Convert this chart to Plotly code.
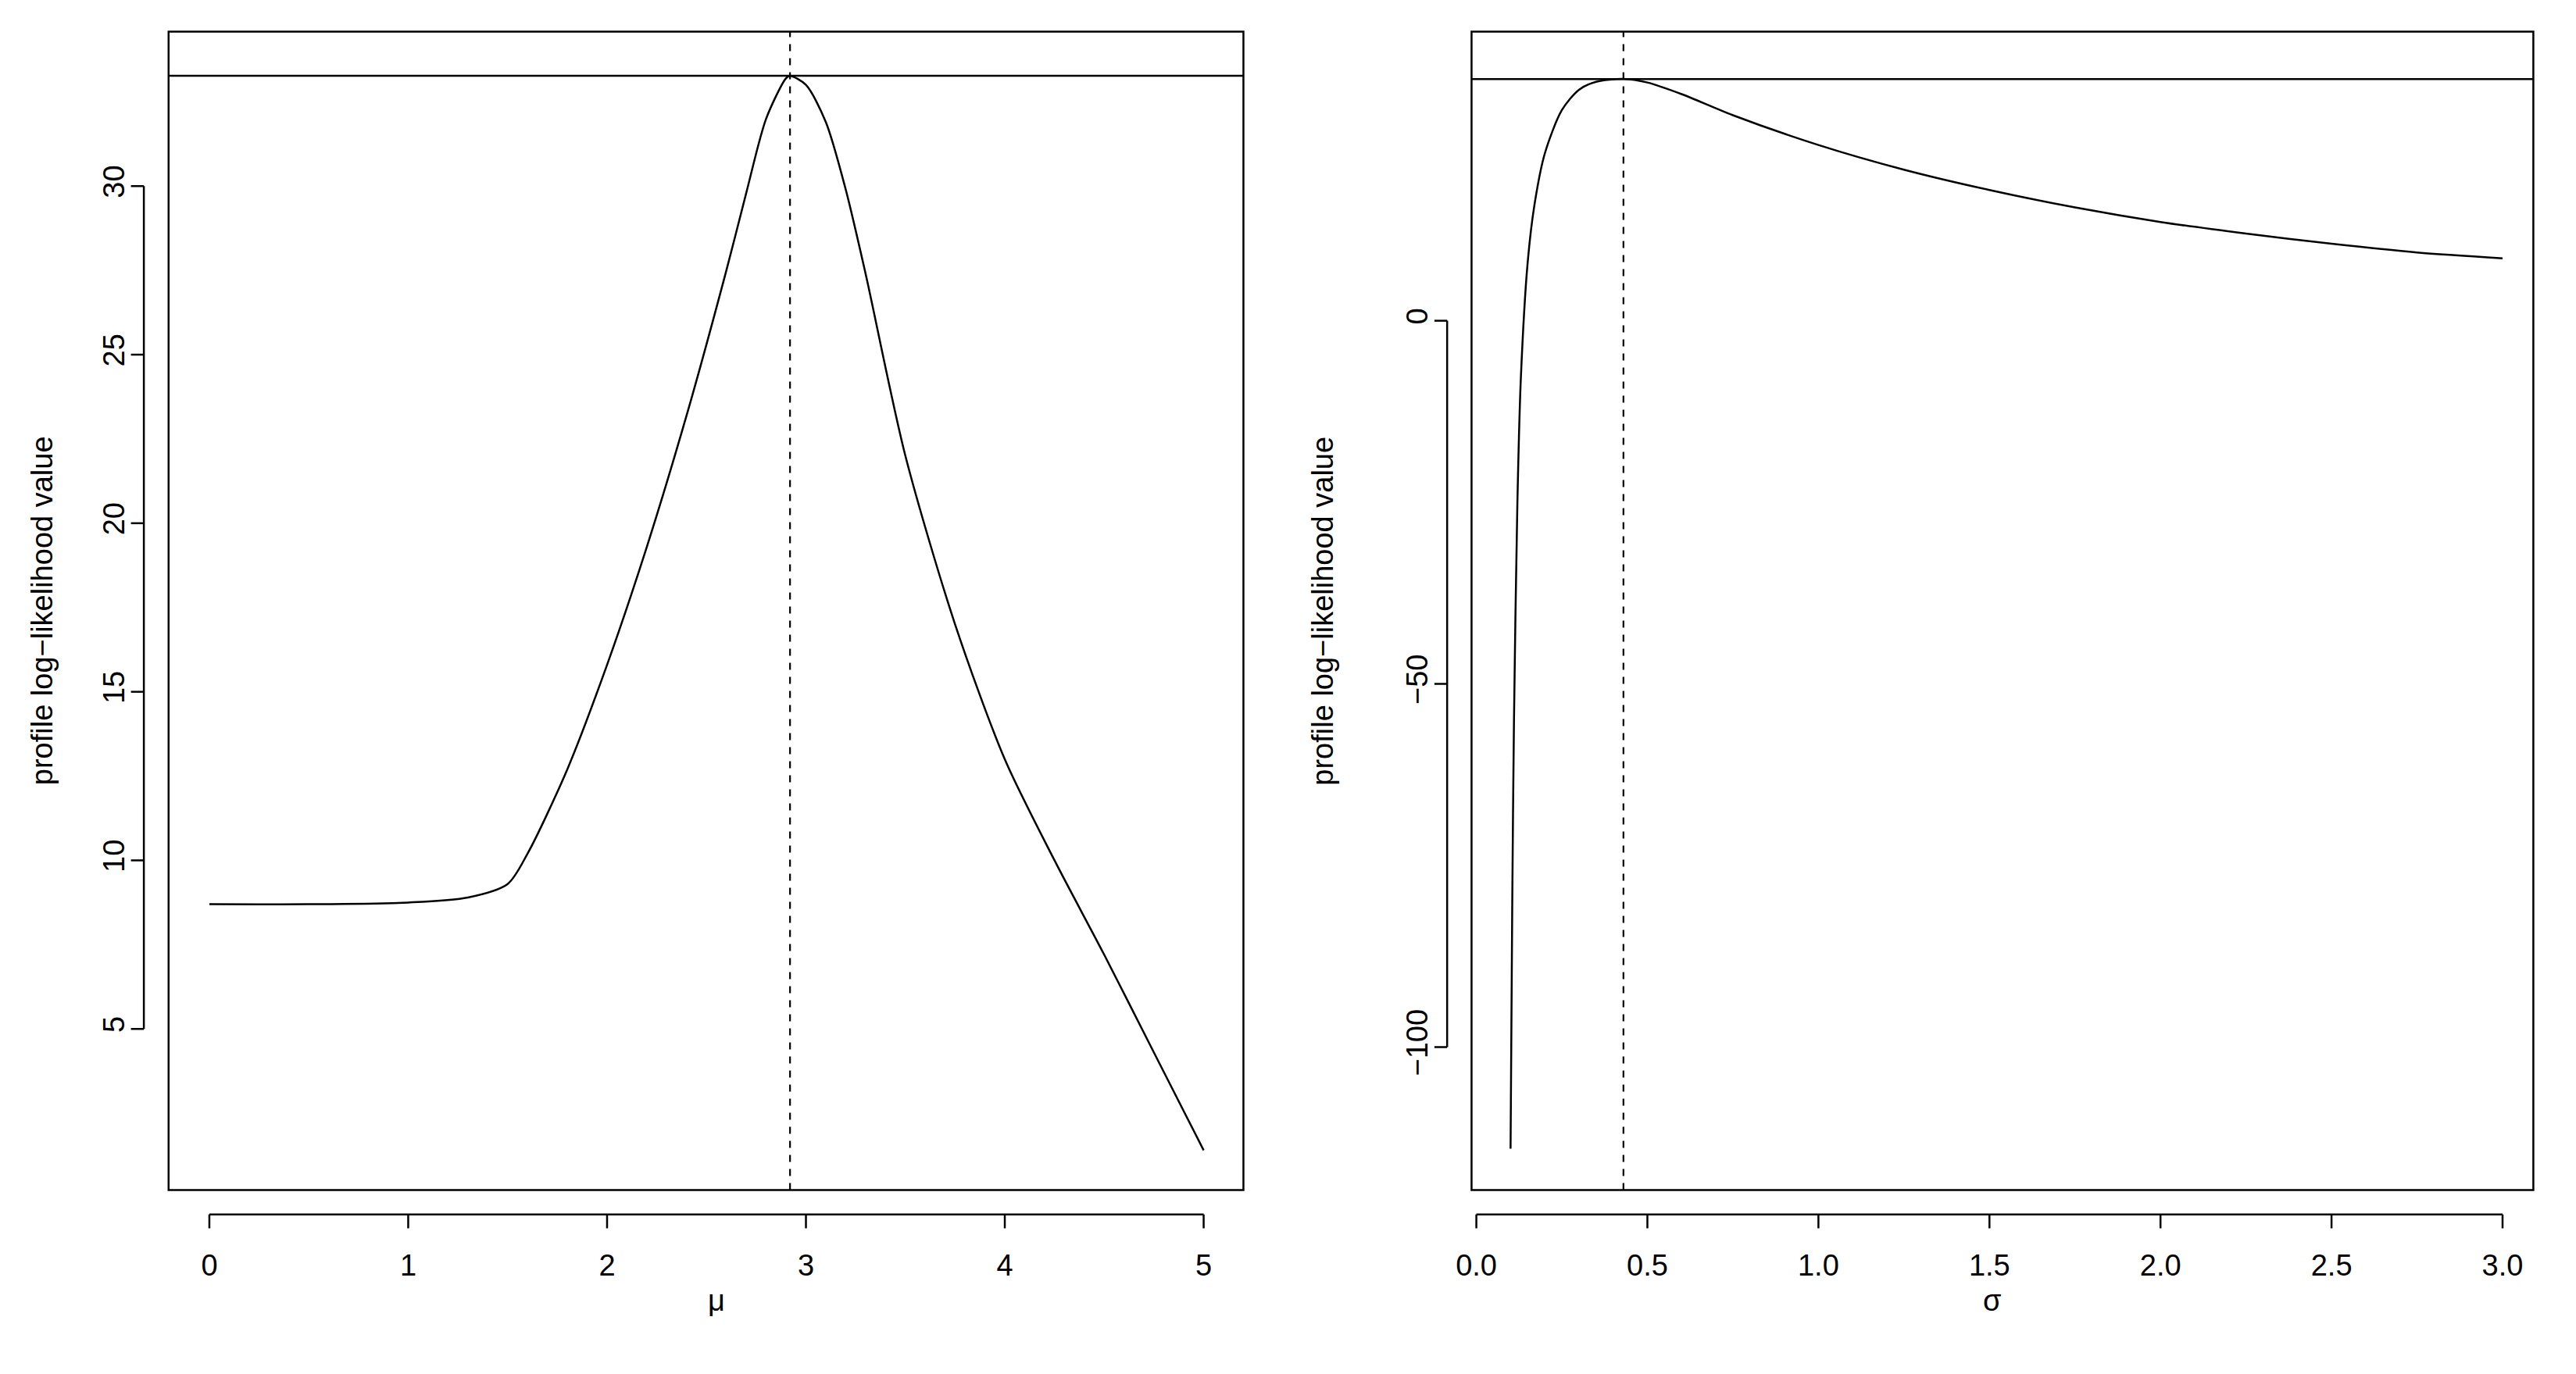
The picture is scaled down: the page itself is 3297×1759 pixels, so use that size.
import plotly.graph_objects as go

mu = [0, 0.5, 1.0, 1.3, 1.5, 1.6, 1.8, 2.0, 2.2, 2.4, 2.6, 2.7, 2.8, 2.9, 2.92, 3.0, 3.1, 3.2, 3.3, 3.5, 3.75, 4.0, 4.25, 4.5, 4.75, 5.0]
ll_mu = [8.7, 8.7, 8.75, 8.9, 9.3, 10.2, 12.7, 15.8, 19.3, 23.2, 27.5, 29.8, 32.0, 33.2, 33.27, 33.0, 31.9, 29.9, 27.4, 22.0, 17.0, 13.0, 10.0, 7.2, 4.3, 1.4]
sigma = [0.1, 0.105, 0.11, 0.12, 0.13, 0.15, 0.17, 0.2, 0.25, 0.3, 0.35, 0.43, 0.5, 0.6, 0.75, 1.0, 1.25, 1.5, 1.75, 2.0, 2.25, 2.5, 2.75, 3.0]
ll_sigma = [-114, -80, -55, -25, -8, 8, 16, 23, 29, 31.8, 32.9, 33.3, 32.8, 31.2, 28.3, 24.2, 20.8, 18.0, 15.6, 13.6, 12.0, 10.6, 9.4, 8.6]
max_ll = 33.27
mu_hat = 2.92
sigma_hat = 0.43
x1_ticks = [0, 1, 2, 3, 4, 5]
y1_ticks = [5, 10, 15, 20, 25, 30]
x2_ticks = [0.0, 0.5, 1.0, 1.5, 2.0, 2.5, 3.0]
x2_labels = ["0.0", "0.5", "1.0", "1.5", "2.0", "2.5", "3.0"]
y2_ticks = [-100, -50, 0]

FONT = "Liberation Sans, Arial, sans-serif"
fig = go.Figure()
line = dict(color="black", width=2.5)
fig.add_trace(go.Scatter(x=mu, y=ll_mu, mode="lines", line=dict(color="black", width=2.5, shape="spline", smoothing=0.8), xaxis="x", yaxis="y"))
fig.add_trace(go.Scatter(x=sigma, y=ll_sigma, mode="lines", line=dict(color="black", width=2.5, shape="spline", smoothing=0.8), xaxis="x2", yaxis="y2"))

shapes = []
for xa, ya, xt, yt, xh in [("x", "y", x1_ticks, y1_ticks, mu_hat), ("x2", "y2", x2_ticks, y2_ticks, sigma_hat)]:
    xd, yd = xa + " domain", ya + " domain"
    shapes.append(dict(type="rect", xref=xd, yref=yd, x0=0, x1=1, y0=0, y1=1, line=line))
    shapes.append(dict(type="line", xref=xd, yref=ya, x0=0, x1=1, y0=max_ll, y1=max_ll, line=line))
    shapes.append(dict(type="line", xref=xa, yref=yd, x0=xh, x1=xh, y0=0, y1=1, line=dict(color="black", width=2.2, dash="dash")))
    shapes.append(dict(type="line", xref=xa, yref=yd, x0=xt[0], x1=xt[-1], y0=-0.021, y1=-0.021, line=line))
    for t in xt:
        shapes.append(dict(type="line", xref=xa, yref=yd, x0=t, x1=t, y0=-0.021, y1=-0.033, line=line))
    shapes.append(dict(type="line", xref=xd, yref=ya, x0=-0.023, x1=-0.023, y0=yt[0], y1=yt[-1], line=line))
    for t in yt:
        shapes.append(dict(type="line", xref=xd, yref=ya, x0=-0.023, x1=-0.035, y0=t, y1=t, line=line))

tf = dict(family=FONT, size=38, color="black")
ax = dict(showgrid=False, zeroline=False, showline=False, ticks="", tickfont=tf)
fig.update_layout(
    width=3297, height=1759, margin=dict(l=0, r=0, t=0, b=0),
    paper_bgcolor="white", plot_bgcolor="white", showlegend=False,
    xaxis=dict(ax, domain=[0.0573, 0.4771], range=[-0.205, 5.2], tickvals=x1_ticks, anchor="y", ticklabelstandoff=70),
    yaxis=dict(ax, domain=[0.1384, 0.9815], range=[0.22, 34.58], tickvals=y1_ticks, anchor="x", tickangle=-90, ticklabelstandoff=48),
    xaxis2=dict(ax, domain=[0.5662, 0.9809], range=[-0.014, 3.09], tickvals=x2_ticks, ticktext=x2_labels, anchor="y2", ticklabelstandoff=70),
    yaxis2=dict(ax, domain=[0.1384, 0.9815], range=[-119.7, 39.8], tickvals=y2_ticks, ticktext=["\u2212100", "\u221250", "0"], anchor="x2", tickangle=-90, ticklabelstandoff=48),
    shapes=shapes,
    annotations=[
        dict(text="\u03bc", x=0.2672, y=0.045, xref="paper", yref="paper", showarrow=False, font=tf),
        dict(text="\u03c3", x=0.7736, y=0.045, xref="paper", yref="paper", showarrow=False, font=tf),
        dict(text="profile log\u2212likelihood value", x=0.001, y=0.56, xref="paper", yref="paper", showarrow=False, textangle=-90, font=tf),
        dict(text="profile log\u2212likelihood value", x=0.508, y=0.56, xref="paper", yref="paper", showarrow=False, textangle=-90, font=tf),
    ],
)
fig.write_html("out.html")
